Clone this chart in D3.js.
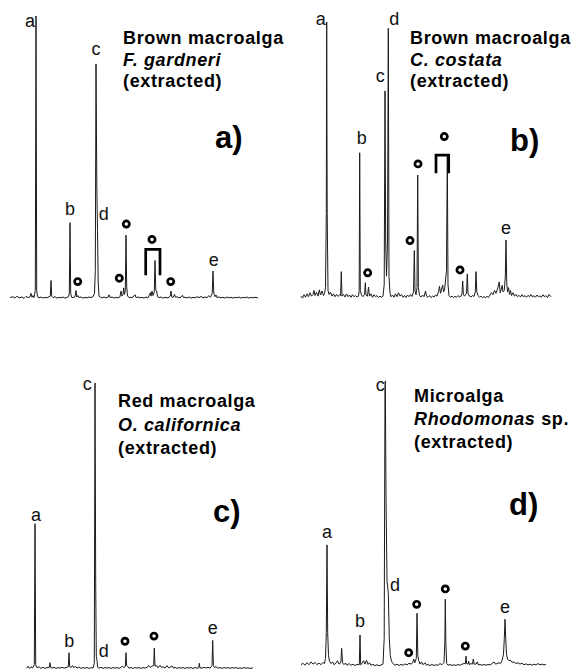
<!DOCTYPE html>
<html>
<head>
<meta charset="utf-8">
<script src="https://cdn.jsdelivr.net/npm/d3@7"></script>
<style>
  html, body { margin: 0; padding: 0; background: #fff; }
  svg { display: block; }
  .trace { fill: none; stroke: #1b1b1b; stroke-width: 1; stroke-linejoin: miter; }
  .peak-label { font-family: "Liberation Sans", Arial, Helvetica, sans-serif; font-size: 18px; fill: #111; text-anchor: middle; }
  .title { font-family: "Liberation Sans", Arial, Helvetica, sans-serif; font-weight: bold; font-size: 18px; letter-spacing: 0.65px; fill: #000; }
  .tag { font-family: "Liberation Sans", Arial, Helvetica, sans-serif; font-weight: bold; font-size: 31px; fill: #000; }
  .marker { fill: none; stroke: #000; stroke-width: 2.7; }
  .bracket { fill: none; stroke: #000; stroke-width: 2.7; }
</style>
</head>
<body>
<svg id="chart" width="576" height="669"></svg>
<script>
// ---- Chromatogram traces: [retention (scan units), relative intensity %] ----
const traceA = [[0,0.5],[3,0.8],[5,0.3],[7,1.0],[9,0.4],[12,0.7],[14,0.2],[16,0.9],[18,0.5],[20,0.8],[21,2.0],[22,0.6],[23,1.2],[24,0.5],[25.3,3],[26,99.3],[26.7,3],[27.5,0.8],[29,0.4],[31,0.7],[33,0.3],[35,0.6],[37,0.4],[39,0.8],[40.3,1],[41,6.5],[41.7,1],[43,0.5],[45,0.8],[47,0.3],[49,0.6],[51,0.4],[53,0.7],[55,0.3],[57,0.6],[58.5,0.8],[59.3,2],[60,26.8],[60.7,2],[61.5,0.6],[63,0.5],[65,0.8],[66,3.0],[66.8,0.7],[68,1.2],[69,0.5],[71,0.7],[73,0.3],[75,0.6],[77,0.4],[79,0.7],[81,0.5],[83,0.8],[84.5,2],[85.3,10],[86,82.5],[86.8,40],[87.5,24],[88.2,6],[89,1.0],[90.5,0.6],[92,0.4],[94,0.7],[96,0.4],[98,0.6],[99,1.5],[100,0.5],[102,0.7],[104,0.3],[106,0.6],[108,0.4],[110,0.8],[111,2.8],[112,1.0],[113,1.5],[113.7,3.9],[114.5,1.6],[115.3,3],[116,22.4],[116.7,4.5],[117.5,1.0],[119,0.6],[121,0.4],[123,0.7],[125,1.5],[126,0.5],[128,0.7],[130,0.4],[132,0.6],[134,0.3],[136,0.7],[138,0.4],[139.5,1.5],[140.3,2.2],[141,1.0],[142,2.8],[143,1.2],[144.3,2.5],[145,13.5],[145.8,3],[146.7,2.8],[147.5,0.8],[149,0.5],[151,0.7],[153,0.3],[155,0.6],[157,0.4],[159,0.6],[160.3,1],[161,2.8],[161.7,0.8],[163,0.5],[164.5,1.6],[165.5,0.6],[167,0.8],[169,0.4],[171,0.6],[172.5,1.3],[173.5,0.5],[175,0.6],[177,0.4],[179,0.7],[181,0.3],[183,0.6],[185,0.4],[187,0.8],[189,0.5],[191,0.9],[193,0.4],[195,0.7],[197,0.5],[199,1.2],[200.5,0.6],[202.2,2],[203,9.8],[203.8,2],[205,0.8],[206,1.4],[207,0.5],[209,0.7],[211,0.4],[213,0.6],[215,0.3],[217,0.7],[219,0.4],[221,0.6],[223,0.3],[225,0.6],[227,0.4],[229,0.7],[231,0.3],[233,0.6],[235,0.4],[237,0.7],[239,0.3],[241,0.6],[243,0.4],[245,0.6],[248,0.4]];

const traceB = [[0,1.0],[1.5,0.3],[3,1.5],[4.5,0.6],[6,1.8],[7.5,0.8],[9,2.2],[10.5,1.0],[12,1.6],[13,3.0],[14,1.2],[15.5,2.4],[17,1.0],[18.3,3.2],[19.5,1.4],[21,2.8],[22.5,1.2],[23.5,2.0],[24.5,4],[25.3,30],[25.7,97.2],[26.2,30],[27,3],[28,1.6],[29.5,2.4],[31,1.0],[32.5,1.8],[34,0.8],[35.5,1.6],[37,0.9],[38.5,1.4],[39.6,1.2],[40.3,9.6],[41,1.0],[42.5,1.6],[44,0.7],[45.5,1.8],[47,0.8],[48.5,1.4],[50,0.6],[51.5,1.5],[53,0.8],[54.5,1.2],[56,0.7],[57.5,1.0],[58.2,3],[58.7,51.3],[59.3,3],[60.5,1.4],[62,0.8],[63.6,1.6],[64.3,5.7],[65,1.4],[66.5,1.0],[67.5,4.2],[68.5,1.0],[70,1.8],[71.5,0.6],[73,1.5],[74.5,0.8],[76,1.2],[77.5,0.5],[79,1.0],[80.5,0.6],[82,1.0],[83.2,5],[84,73],[84.7,20],[85.5,8],[86.5,20],[87.3,95],[88,8],[89,2],[90,0.8],[91.5,1.4],[93,0.6],[94.5,1.8],[96,0.8],[97.5,2.2],[99,1.0],[100.5,1.6],[102,0.6],[103.5,1.2],[105,0.5],[106.5,1.4],[108,0.8],[109.5,1.6],[111,0.9],[112.5,2.5],[113.3,17],[114,3],[115,1.5],[116,4],[116.7,43.5],[117.4,4],[118.5,1.2],[120,0.7],[121.5,1.4],[123,0.8],[124.5,2.8],[125.5,1.0],[127,0.6],[128.5,1.2],[130,0.5],[131.5,1.0],[133,0.7],[134.5,1.4],[136,1.0],[137.5,2.5],[138.5,4.5],[139.5,2],[141.7,4.9],[142.5,2.5],[143.5,3],[145.5,10],[146.3,50.5],[147,5],[148,1.2],[149.5,0.6],[151,1.0],[152.5,0.5],[154,0.9],[155.5,0.6],[157,1.2],[158.5,0.7],[160,1.0],[161,2],[161.7,6.3],[162.4,1.5],[163.5,1.0],[165.5,2],[166.3,8.8],[167,2],[168.5,1.0],[170,0.7],[171.5,1.2],[173,0.9],[174.3,2.5],[175,9.6],[175.8,2.5],[177,1.2],[178.5,0.7],[180,1.0],[181.5,0.5],[183,0.8],[184.5,0.5],[186,0.9],[187.5,0.5],[189,1.4],[190.5,2.2],[192,1.5],[193.5,3],[195,2],[196.5,3.5],[198.3,6],[199.2,2.2],[200.3,3.5],[201.2,4.8],[202,2.5],[203.3,3],[204.3,8],[205,20.7],[205.7,6],[206.5,2.5],[207.5,4],[208.5,1.6],[209.5,3],[210.5,1.2],[212,2.2],[213.5,1.0],[215,1.6],[216.5,0.8],[218,1.3],[219.5,0.7],[221,1.5],[222.5,0.8],[224,1.2],[225.5,0.6],[227,1.3],[228.5,0.8],[230,1.6],[231.5,0.7],[233,1.2],[234.5,0.6],[236,1.4],[237.5,0.8],[239,1.1],[240.5,0.6],[242,1.5],[243.5,0.8],[245,1.2],[246.5,0.5],[248,1.6],[250,0.8]];

const traceC = [[16.7,0.3],[18,1.0],[19.5,0.2],[21,0.8],[22.5,0.3],[24.3,1.5],[25,50.8],[25.7,1.5],[27,0.4],[29,0.8],[31,0.2],[33,0.6],[35,0.2],[37,0.5],[39.3,0.6],[40,2.2],[40.7,0.5],[42,0.3],[44,0.6],[46,0.2],[48,0.5],[50,0.3],[52,0.6],[54,0.3],[56,0.5],[58.3,0.8],[59,5.7],[59.7,0.8],[61,0.5],[62.5,1.2],[64,0.4],[65.5,1.0],[67,0.3],[69,0.7],[71,0.2],[73,0.5],[75,0.3],[77,0.5],[79,0.2],[81,0.5],[83,0.3],[84.3,2],[85,100],[85.7,30],[86.3,4.5],[87,3],[87.6,0.6],[89,0.3],[91,0.6],[93,0.2],[95,0.5],[97,0.3],[99,0.5],[101,0.2],[103,0.5],[105,0.3],[107,0.5],[109,0.2],[111,0.6],[112.5,1.0],[114,0.4],[115.4,1],[116,5.7],[116.6,1.2],[117.5,1.0],[119,0.3],[121,0.5],[123,0.2],[125,0.5],[127,0.3],[129,0.5],[131,0.2],[133,0.5],[135,0.3],[137,0.6],[139,1.2],[140.5,0.5],[142,1.0],[143.7,1.2],[144.3,7.3],[145,1.0],[146.5,1.2],[148,0.4],[150,1.3],[151.5,0.5],[153,0.8],[155,0.3],[157,1.2],[158.5,0.4],[160,0.6],[162,1.1],[163.5,0.3],[165,0.6],[167,0.2],[169,0.5],[171,0.3],[173,0.5],[175,0.2],[177,0.5],[179,0.3],[181,0.5],[183,0.2],[185,0.5],[187,0.3],[188.7,0.4],[189.3,2.0],[190,0.4],[192,0.3],[194,0.6],[196,0.3],[198,0.6],[200,0.3],[202,1.2],[202.7,10],[203.4,1.2],[204.5,0.5],[206,0.8],[208,0.3],[210,0.5],[212,0.2],[214,0.5],[216,0.3],[218,0.5],[220,0.2],[222,0.5],[224,0.3],[226,0.5],[228,0.2],[230,0.4],[232,0.2],[234,0.5],[236,0.3],[238,0.4],[240,0.2],[243,0.4]];

const traceD = [[0,0.8],[2,1.3],[4,0.6],[6,1.5],[8,0.8],[10,1.8],[12,1.0],[14,1.6],[16,0.8],[18,1.4],[20,0.8],[22,1.6],[23.5,1.2],[24.5,3],[25.3,12],[26,42.7],[26.7,12],[27.5,4],[28.5,2],[30,1.2],[31.5,1.8],[33,0.8],[35,1.4],[36.5,2.2],[38,1.0],[39.8,1.5],[40.7,6.5],[41.5,1.5],[43,0.8],[44.5,1.4],[46,0.6],[48,1.2],[50,0.6],[52,1.0],[54,0.5],[56,0.9],[58.3,0.8],[59,11.2],[59.7,0.8],[61,1.2],[62.5,2.2],[64,1.0],[65.5,2.4],[67,0.9],[68.5,1.5],[70,0.6],[72,0.9],[74,0.5],[76,0.8],[78,0.4],[80,0.7],[82,1.0],[83.2,10],[84,98],[84.3,100],[85,60],[86,30],[87.3,26],[88.3,10],[89.3,4],[90.5,2],[92,1.2],[94,0.6],[96,1.0],[98,0.5],[100,0.9],[102,0.6],[104,1.1],[106,0.7],[108,1.3],[110,1.0],[111.8,1.5],[112.7,2.8],[113.8,1.5],[115.3,3],[116,18.8],[116.8,4],[117.8,2.2],[119,1.0],[120.5,1.8],[122,0.8],[124,1.5],[125.5,0.6],[127,0.9],[129,0.5],[131,0.9],[133,0.5],[135,0.8],[137,0.6],[139,1.2],[141,0.8],[143,1.5],[143.8,8],[144.3,23.7],[144.9,8],[145.7,1.2],[147,0.6],[149,0.9],[151,0.5],[153,0.8],[155,0.5],[157,0.9],[159,0.6],[161,1.0],[163,1.2],[164.4,1.2],[165,3.8],[165.6,1.2],[167,1.0],[167.7,2.0],[168.5,0.8],[170,1.2],[171.5,1.0],[172.3,2.8],[173.2,1.0],[175,1.0],[176.3,1.8],[177.5,0.7],[179,0.9],[181,0.6],[183,0.9],[185,0.6],[187,0.9],[189,0.7],[191,1.2],[193,1.8],[194.5,1.0],[196,1.2],[198,1.5],[199.5,1.2],[201,2.2],[202.5,4.5],[203.3,10],[204,16.7],[204.7,10],[205.5,4.5],[206.5,2.8],[208,2.2],[209.5,2.4],[211,1.6],[213,1.8],[215,1.2],[217,1.5],[219,1.0],[221,1.3],[223,0.8],[225,1.1],[227,0.7],[229,1.0],[231,0.6],[233,1.0],[235,0.7],[237,1.2],[239,0.8],[241,1.0],[243,0.7],[245,0.9]];

// ---- Peak letters: [letter, retention, intensity of text baseline] ----
const lettersA = [["a",20,95.4],["b",60,29.5],["c",86,85.6],["d",93.8,27.7],["e",203.7,11.6]];
const lettersB = [["a",19.7,96],["d",93.3,96],["c",79.3,76.2],["b",60.7,54.4],["e",205,22.8]];
const lettersC = [["a",26,51.9],["b",59.3,7.7],["c",77.3,97.4],["d",93.7,4.2],["e",202.7,12.3]];
const lettersD = [["a",26,45],["b",59,14.1],["c",79.3,96.6],["d",94,26.6],["e",204,18.8]];

// ---- Open-circle markers: [retention, intensity] ----
const circlesA = [[67.7,6.1],[109.3,7.3],[116.3,26.3],[142,20.9],[160.7,6.1]];
const circlesB = [[66.7,9.2],[109,20.5],[117,47.4],[143.3,57],[159,10.2]];
const circlesC = [[115,9.7],[144,11.5]];
const circlesD = [[107.7,5],[115.7,21.9],[144.3,27.3],[164.3,7.3]];

// ---- Brackets grouping co-eluting peaks: [start, end, top, foot] ----
const bracketsA = [[135.7,150,17.4,8.3]];
const bracketsB = [[135,147.7,50.5,44.1]];

// ---- Panel captions ----
const groups  = ["Brown macroalga", "Brown macroalga", "Red macroalga", "Microalga"];
const species = [["F. gardneri", ""], ["C. costata", ""], ["O. californica", ""], ["Rhodomonas", " sp."]];
const prep    = ["(extracted)", "(extracted)", "(extracted)", "(extracted)"];
const tags    = ["a)", "b)", "c)", "d)"];

const traces   = [traceA, traceB, traceC, traceD];
const letters  = [lettersA, lettersB, lettersC, lettersD];
const circles  = [circlesA, circlesB, circlesC, circlesD];
const brackets = [bracketsA, bracketsB, [], []];

// ---- Layout ----
const svg = d3.select("#chart");
const panels = [
  { x0: 10,  x1: 260, base: 299, top: 14,  titleX: 123, titleY: [44, 65.5, 87],   tagX: 215, tagY: 148 },
  { x0: 301, x1: 551, base: 299, top: 14,  titleX: 410, titleY: [43.5, 65.5, 87], tagX: 510, tagY: 151 },
  { x0: 10,  x1: 260, base: 669, top: 383, titleX: 118, titleY: [406.5, 430.5, 454], tagX: 213, tagY: 522 },
  { x0: 301, x1: 551, base: 667, top: 381, titleX: 414, titleY: [402, 425, 447.5], tagX: 509, tagY: 515 }
];

panels.forEach((p, i) => {
  const x = d3.scaleLinear().domain([0, 250]).range([p.x0, p.x1]);
  const y = d3.scaleLinear().domain([0, 100]).range([p.base, p.top]);
  const g = svg.append("g");

  const line = d3.line().x(d => x(d[0])).y(d => y(d[1]));
  g.append("path").attr("class", "trace").attr("d", line(traces[i]));

  g.selectAll(".peak-label").data(letters[i]).join("text")
    .attr("class", "peak-label")
    .attr("x", d => x(d[1])).attr("y", d => y(d[2]))
    .text(d => d[0]);

  g.selectAll(".marker").data(circles[i]).join("circle")
    .attr("class", "marker")
    .attr("cx", d => x(d[0])).attr("cy", d => y(d[1])).attr("r", 3.1);

  g.selectAll(".bracket").data(brackets[i]).join("path")
    .attr("class", "bracket")
    .attr("d", d => `M${x(d[0])},${y(d[3])}V${y(d[2])}H${x(d[1])}V${y(d[3])}`);

  // caption block
  g.append("text").attr("class", "title").attr("x", p.titleX).attr("y", p.titleY[0]).text(groups[i]);
  const sp = g.append("text").attr("class", "title").attr("x", p.titleX).attr("y", p.titleY[1]);
  sp.append("tspan").attr("font-style", "italic").text(species[i][0]);
  if (species[i][1]) sp.append("tspan").text(species[i][1]);
  g.append("text").attr("class", "title").attr("x", p.titleX).attr("y", p.titleY[2]).text(prep[i]);

  g.append("text").attr("class", "tag").attr("x", p.tagX).attr("y", p.tagY).text(tags[i]);
});
</script>
</body>
</html>
